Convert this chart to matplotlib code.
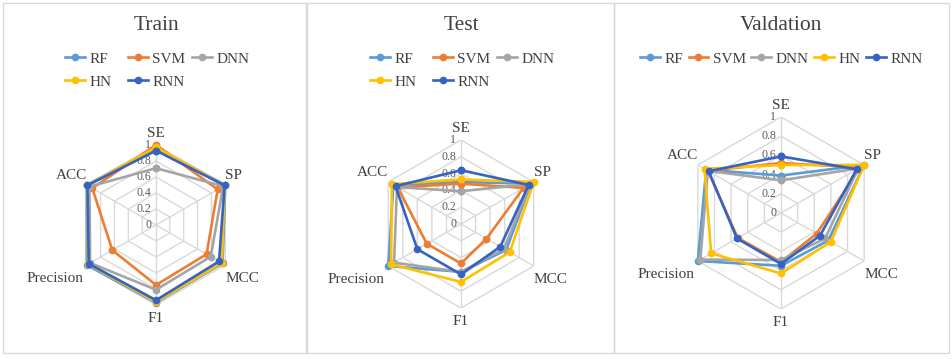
import numpy as np
import matplotlib
matplotlib.use("Agg")
import matplotlib.pyplot as plt
from matplotlib.patches import Rectangle

plt.rcParams['font.family'] = ['Liberation Serif', 'DejaVu Serif']

metrics = ["SE", "SP", "MCC", "F1", "Precision", "ACC"]
models = ["RF", "SVM", "DNN", "HN", "RNN"]
tick_values = [0, 0.2, 0.4, 0.6, 0.8, 1.0]
tick_labels = ["0", "0.2", "0.4", "0.6", "0.8", "1"]

train_RF = [0.96, 1.00, 0.96, 0.97, 1.00, 1.00]
train_SVM = [1.00, 0.89, 0.73, 0.75, 0.63, 0.92]
train_DNN = [0.71, 0.97, 0.79, 0.81, 0.95, 0.96]
train_HN = [0.97, 0.99, 0.95, 0.96, 0.98, 0.99]
train_RNN = [0.93, 0.99, 0.91, 0.94, 0.97, 0.99]

test_RF = [0.50, 0.96, 0.62, 0.57, 1.00, 0.93]
test_SVM = [0.48, 0.86, 0.35, 0.47, 0.47, 0.87]
test_DNN = [0.39, 0.95, 0.59, 0.57, 0.92, 0.88]
test_HN = [0.53, 1.00, 0.67, 0.69, 0.96, 0.95]
test_RNN = [0.64, 0.93, 0.54, 0.60, 0.60, 0.90]

val_RF = [0.39, 1.00, 0.57, 0.55, 1.00, 0.90]
val_SVM = [0.52, 0.95, 0.43, 0.51, 0.52, 0.88]
val_DNN = [0.34, 0.93, 0.53, 0.49, 0.97, 0.88]
val_HN = [0.50, 1.00, 0.60, 0.63, 0.84, 0.92]
val_RNN = [0.59, 0.91, 0.47, 0.53, 0.53, 0.87]

panels = [
    ("Train", [train_RF, train_SVM, train_DNN, train_HN, train_RNN]),
    ("Test", [test_RF, test_SVM, test_DNN, test_HN, test_RNN]),
    ("Valdation", [val_RF, val_SVM, val_DNN, val_HN, val_RNN]),
]

colors = ["#5B9BD5", "#ED7D31", "#A5A5A5", "#FFC000", "#3563C4"]

W, H = 952, 359
fig = plt.figure(figsize=(W / 100, H / 100), dpi=100)
fig.patch.set_facecolor("white")

# panel geometry in pixels: frame left, frame right, center x, center y, radius,
# legend columns (list of (x, [model indices])) or single-row start x
geom = [
    (3, 306, 156, 225, 80, [(65, [0, 3]), (128, [1, 4]), (192, [2])]),
    (307, 614, 461, 224, 84, [(370, [0, 3]), (433, [1, 4]), (497, [2])]),
    (614, 949, 781, 213, 96, 640),
]

angles = np.linspace(0, 2 * np.pi, len(metrics), endpoint=False)
ang_c = np.concatenate([angles, angles[:1]])

label_offsets = {
    "SE": (0, 8.5, "center"),
    "SP": (0, 7, "left"),
    "MCC": (0, -9.5, "left"),
    "F1": (0, -10, "center"),
    "Precision": (-2.5, -9.5, "right"),
    "ACC": (0, 6.5, "right"),
}

leg_kw = dict(frameon=False, fontsize=11, handlelength=1.3,
              handletextpad=0.3, borderpad=0, labelcolor="#404040",
              borderaxespad=0)

for (title, series), (fl, fr, cx, cy, R, leg) in zip(panels, geom):
    fig.add_artist(Rectangle((fl / W, 1 - 353 / H), (fr - fl) / W, 350 / H,
                             transform=fig.transFigure, fill=False,
                             edgecolor="#D9D9D9", linewidth=1.0))
    fig.text(cx / W, 1 - 25 / H, title, ha="center", va="center",
             fontsize=15.5, color="#404040")

    ax = fig.add_axes([(cx - R) / W, 1 - (cy + R) / H, 2 * R / W, 2 * R / H],
                      projection="polar")
    ax.set_theta_zero_location("N")
    ax.set_theta_direction(-1)
    ax.set_ylim(0, 1)
    ax.grid(False)
    ax.set_xticks([])
    ax.set_yticks([])
    ax.spines["polar"].set_visible(False)
    ax.patch.set_alpha(0)

    for lv in tick_values[1:]:
        ax.plot(ang_c, [lv] * len(ang_c), color="#D9D9D9", lw=1.0, zorder=1)
    for a in angles:
        ax.plot([a, a], [0, 1], color="#D9D9D9", lw=1.0, zorder=1)

    for lv, tl in zip(tick_values, tick_labels):
        ax.annotate(tl, xy=(0, lv), xytext=(-3.5, 0), textcoords="offset points",
                    ha="right", va="center", fontsize=8.5, color="#595959", zorder=2)

    handles = []
    for vals, c, name in zip(series, colors, models):
        v = list(vals) + [vals[0]]
        ln, = ax.plot(ang_c, v, color=c, lw=1.9, marker="o", markersize=4.5,
                      markeredgecolor=c, markerfacecolor=c, zorder=3, label=name,
                      clip_on=False)
        handles.append(ln)

    for a, m in zip(angles, metrics):
        dx, dy, ha = label_offsets[m]
        ax.annotate(m, xy=(a, 1), xytext=(dx, dy), textcoords="offset points",
                    ha=ha, va="center", fontsize=11, color="#404040",
                    annotation_clip=False)

    if isinstance(leg, list):
        for x0, idx in leg:
            fig.legend([handles[i] for i in idx], [models[i] for i in idx],
                       ncol=1, loc="upper left",
                       bbox_to_anchor=(x0 / W, 1 - 52 / H),
                       labelspacing=0.6, **leg_kw)
    else:
        fig.legend(handles, models, ncol=5, loc="upper left",
                   bbox_to_anchor=(leg / W, 1 - 52 / H),
                   columnspacing=0.35, **leg_kw)

fig.savefig("out.png", dpi=100, facecolor="white")
